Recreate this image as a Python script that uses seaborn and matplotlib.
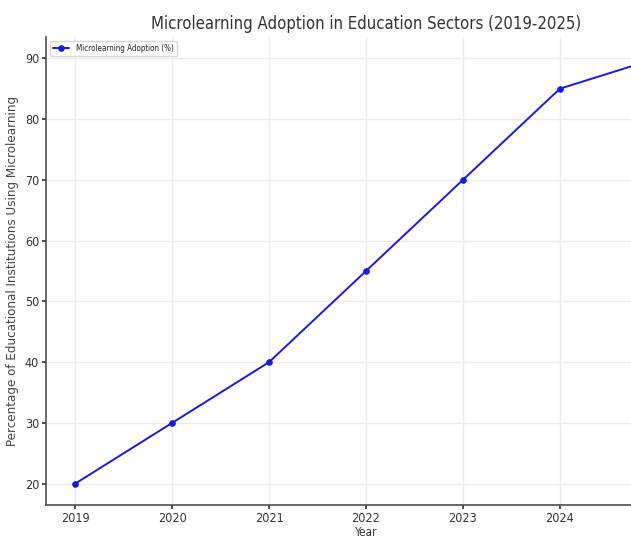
import matplotlib
matplotlib.use("Agg")
import matplotlib.pyplot as plt
import seaborn as sns
import pandas as pd

# data
years = [2019, 2020, 2021, 2022, 2023, 2024, 2025]
adoption = [20, 30, 40, 55, 70, 85, 90]

df = pd.DataFrame({"Year": years, "Adoption": adoption})

sns.set_theme(style="whitegrid", rc={
    "axes.edgecolor": "#555555",
    "grid.color": "#ececec",
    "xtick.bottom": True,
    "ytick.left": True,
})
plt.rcParams["font.family"] = ["DejaVu Sans"]
plt.rcParams["font.stretch"] = "condensed"

fig = plt.figure(figsize=(6.31, 5.42), dpi=100)
# the reference is cropped on the right: axes run past the figure edge
ax = fig.add_axes([46 / 631, 1 - 505 / 542, 640 / 631, 468 / 542])

sns.lineplot(data=df, x="Year", y="Adoption", marker="o", color="#1a1adb",
             markersize=4, markeredgecolor="#1a1adb", linewidth=1.4,
             label="Microlearning Adoption (%)", ax=ax)

ax.set_title("Microlearning Adoption in Education Sectors (2019-2025)",
             fontsize=12, color="#333333")
ax.set_xlabel("Year", fontsize=8.5, color="#333333", labelpad=1)
ax.set_ylabel("Percentage of Educational Institutions Using Microlearning",
              fontsize=9.5, color="#444444")
ax.set_xticks(years[:-1])
ax.tick_params(labelsize=9, colors="#333333", length=3, pad=2)
for s in ["top", "right"]:
    ax.spines[s].set_visible(False)
ax.legend(loc="upper left", fontsize=5.8, frameon=True)

fig.savefig("out.png", dpi=100)
